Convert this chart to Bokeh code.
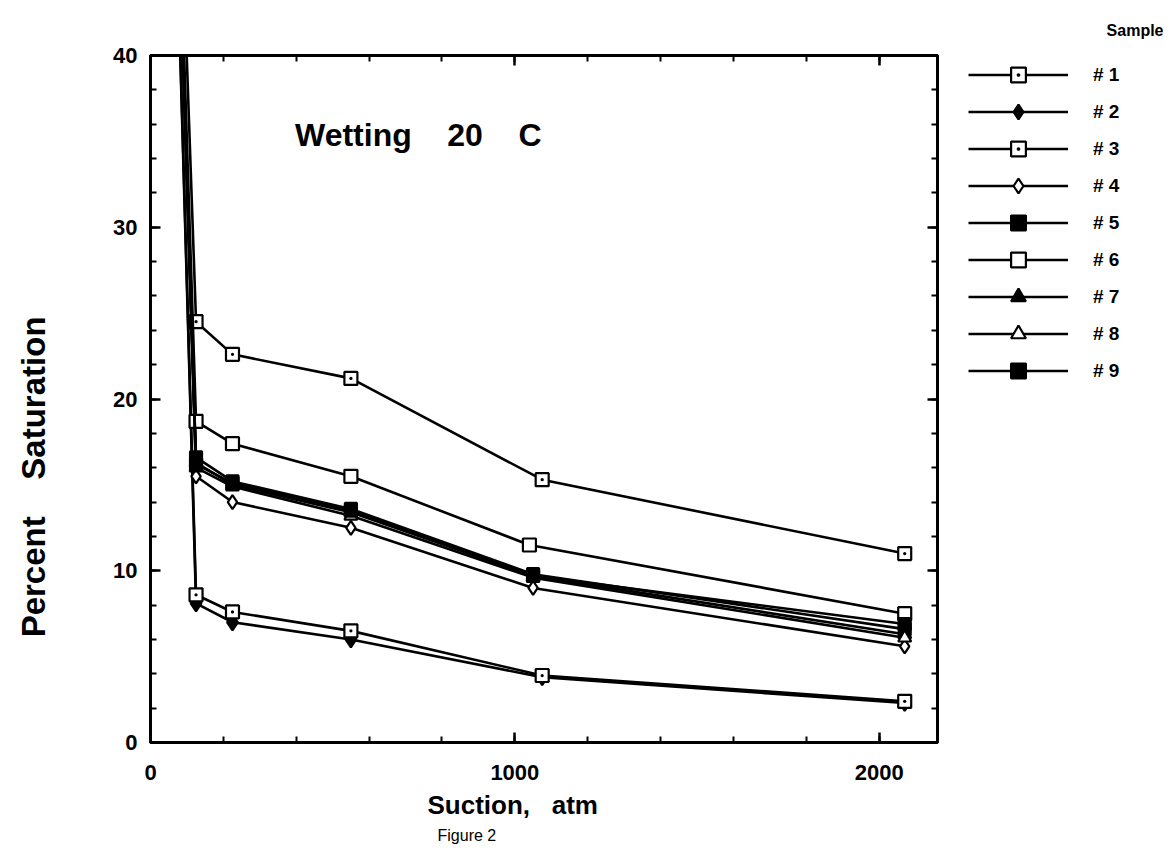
import math
from bokeh.plotting import figure
from bokeh.layouts import row
from bokeh.models import (Range1d, LinearAxis, FixedTicker, Label, Legend,
                          LegendItem, Title)
from bokeh.embed import file_html
from bokeh.resources import INLINE

# ---------------- data ----------------
samples = ["# 1", "# 2", "# 3", "# 4", "# 5", "# 6", "# 7", "# 8", "# 9"]
suction_1 = [0, 125, 225, 550, 1075, 2070]
suction_2 = [0, 125, 225, 550, 1075, 2070]
suction_3 = [0, 125, 225, 550, 1075, 2070]
suction_4 = [0, 125, 225, 550, 1050, 2070]
suction_5 = [0, 125, 225, 550, 1050, 2070]
suction_6 = [0, 125, 225, 550, 1040, 2070]
suction_7 = [0, 125, 225, 550, 1050, 2070]
suction_8 = [0, 125, 225, 550, 1050, 2070]
suction_9 = [0, 125, 225, 550, 1050, 2070]
sat_1 = [100, 24.5, 22.6, 21.2, 15.3, 11.0]
sat_2 = [100, 8.1, 7.0, 6.0, 3.8, 2.3]
sat_3 = [100, 8.6, 7.6, 6.5, 3.9, 2.4]
sat_4 = [100, 15.5, 14.0, 12.5, 9.0, 5.6]
sat_5 = [100, 16.6, 15.2, 13.6, 9.8, 6.6]
sat_6 = [100, 18.7, 17.4, 15.5, 11.5, 7.5]
sat_7 = [100, 16.3, 15.0, 13.4, 9.7, 6.3]
sat_8 = [100, 16.0, 14.9, 13.2, 9.6, 6.1]
sat_9 = [100, 16.2, 15.1, 13.5, 9.7, 6.9]
x_ticks = [0, 1000, 2000]
y_ticks = [0, 10, 20, 30, 40]

suctions = [suction_1, suction_2, suction_3, suction_4, suction_5,
            suction_6, suction_7, suction_8, suction_9]
sats = [sat_1, sat_2, sat_3, sat_4, sat_5, sat_6, sat_7, sat_8, sat_9]

# marker styles (marker, fill)
styles = [("square_dot", "white"), ("diamond", "black"), ("square_dot", "white"),
          ("diamond", "white"), ("square", "black"), ("square", "white"),
          ("triangle", "black"), ("triangle", "white"), ("square", "black")]
sizes = [13, 16, 13, 14, 12, 13, 13, 13, 12]

FONT = "Liberation Sans"
NB = "\u00a0"
H = 852

p = figure(width=960, height=H, output_backend="svg", toolbar_location=None,
           x_range=Range1d(0, 2160), y_range=Range1d(0, 40),
           min_border_left=150, min_border_right=23,
           min_border_top=55, min_border_bottom=H - 742,
           x_axis_location=None, y_axis_location=None)
p.xgrid.visible = False
p.ygrid.visible = False
p.outline_line_color = "black"
p.outline_line_width = 3
p.background_fill_color = "white"
p.border_fill_color = "white"


def style_axis(ax, show_labels):
    ax.axis_line_width = 3
    ax.axis_line_color = "black"
    ax.major_tick_in = 10
    ax.major_tick_out = 0
    ax.minor_tick_in = 6
    ax.minor_tick_out = 0
    ax.major_tick_line_width = 2.5
    ax.minor_tick_line_width = 2
    ax.major_label_text_font = FONT
    ax.major_label_text_font_style = "bold"
    ax.major_label_text_font_size = "22px"
    ax.major_label_text_color = "black"
    if not show_labels:
        ax.major_label_text_font_size = "0px"
        ax.major_label_text_alpha = 0
        ax.major_label_standoff = 0


xt = FixedTicker(ticks=x_ticks, minor_ticks=list(range(0, 2200, 200)))
yt = FixedTicker(ticks=y_ticks, minor_ticks=list(range(0, 41, 2)))

bottom = LinearAxis(ticker=xt)
style_axis(bottom, True)
bottom.major_label_standoff = 22
top = LinearAxis(ticker=xt)
style_axis(top, False)
left = LinearAxis(ticker=yt)
style_axis(left, True)
left.major_label_standoff = 13
left.axis_label = "Percent" + NB * 4 + "Saturation" + NB * 17
left.axis_label_text_font = FONT
left.axis_label_text_font_style = "bold"
left.axis_label_text_font_size = "33px"
left.axis_label_text_color = "black"
left.axis_label_standoff = 58
right = LinearAxis(ticker=yt)
style_axis(right, False)
p.add_layout(bottom, "below")
p.add_layout(top, "above")
p.add_layout(left, "left")
p.add_layout(right, "right")

# x-axis titles as Title objects (offset along the axis)
xt1 = Title(text="Suction," + NB * 3 + "atm", align="left", offset=277,
            text_font=FONT, text_font_style="bold", text_font_size="26px",
            text_color="black", standoff=10)
xt2 = Title(text="Figure 2", align="left", offset=287,
            text_font=FONT, text_font_style="normal", text_font_size="16px",
            text_color="black", standoff=0)
p.add_layout(xt1, "below")
p.add_layout(xt2, "below")

lab = Label(x=735, y=35.4, text="Wetting" + NB * 4 + "20" + NB * 4 + "C",
            text_font=FONT, text_font_style="bold", text_font_size="32px",
            text_align="center", text_baseline="middle", text_color="black")
p.add_layout(lab)

for i in range(9):
    mk, fill = styles[i]
    p.line(suctions[i], sats[i], line_color="black", line_width=2.6)
    p.scatter(suctions[i][1:], sats[i][1:], marker=mk, size=sizes[i],
              fill_color=fill, line_color="black", line_width=2.2)

# ---------------- legend panel (separate figure) ----------------
q = figure(width=203, height=H, output_backend="svg", toolbar_location=None,
           x_range=Range1d(-20, -10), y_range=Range1d(-20, -10),
           min_border=0, x_axis_location=None, y_axis_location=None)
q.xgrid.visible = False
q.ygrid.visible = False
q.outline_line_alpha = 0
q.background_fill_color = "white"
q.border_fill_color = "white"
q.title.text = "Sample"
q.title.align = "right"
q.title.text_font = FONT
q.title.text_font_style = "bold"
q.title.text_font_size = "16px"
q.title.text_color = "black"
q.title.standoff = 34

items = []
for i in range(9):
    mk, fill = styles[i]
    # same series drawn outside this panel's ranges; only legend glyphs show
    ln = q.line(suctions[i], sats[i], line_color="black", line_width=2.6)
    sc = q.scatter(suctions[i][1:], sats[i][1:], marker=mk, size=sizes[i],
                   fill_color=fill, line_color="black", line_width=2.2)
    items.append(LegendItem(label=samples[i], renderers=[ln, sc]))

legend = Legend(items=items, location=(8, 353), orientation="vertical",
                glyph_width=100, glyph_height=37, label_height=37, spacing=0,
                padding=0, margin=0, label_standoff=25,
                label_text_font=FONT, label_text_font_style="bold",
                label_text_font_size="19px", label_text_color="black",
                border_line_alpha=0, background_fill_alpha=0)
q.add_layout(legend, "center")

layout = row(p, q)
open("out.html", "w").write(file_html(layout, INLINE))
